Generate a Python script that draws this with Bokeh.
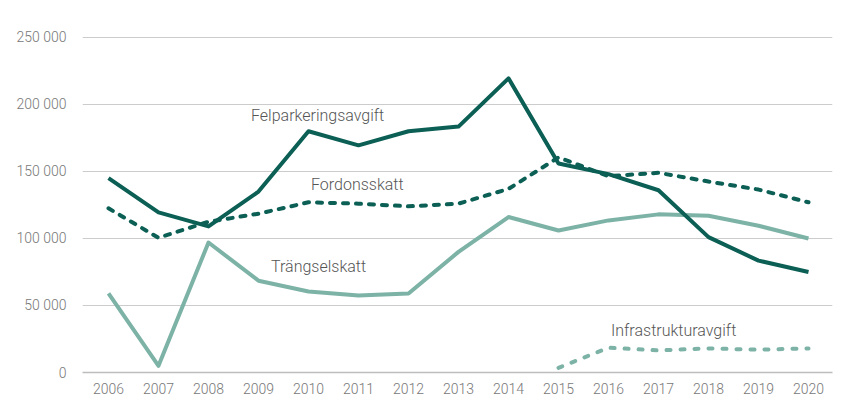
from bokeh.plotting import figure
from bokeh.models import FixedTicker, Range1d, Label
from bokeh.embed import file_html
from bokeh.resources import INLINE

years = list(range(2006, 2021))

felparkering = [145000, 119500, 109000, 135000, 180000, 169500, 180000, 183500,
                219500, 156000, 148000, 136000, 101000, 83500, 75000]
fordonsskatt = [122500, 100500, 112500, 118500, 127000, 126000, 124000, 126000,
                137000, 160500, 146500, 149000, 142500, 136500, 127000]
trangselskatt = [59000, 5000, 97000, 68500, 60500, 57500, 59000, 90000,
                 116000, 106000, 113500, 118000, 117000, 109500, 100000]
infra_years = [2015, 2016, 2017, 2018, 2019, 2020]
infrastruktur = [3500, 18500, 16500, 18000, 17000, 18000]

y_ticks = [0, 50000, 100000, 150000, 200000, 250000]
y_tick_labels = ["0", "50 000", "100 000", "150 000", "200 000", "250 000"]

dark = "#0b5f55"
light = "#7db3a6"
font = "'Roboto Light', Roboto"

p = figure(width=849, height=418, output_backend="svg", toolbar_location=None,
           x_range=Range1d(2005.48, 2020.48), y_range=Range1d(0, 255200),
           min_border_left=82, min_border_right=17, min_border_top=30,
           min_border_bottom=46)
p.outline_line_color = None
p.background_fill_color = "white"
p.border_fill_color = "white"

p.xgrid.grid_line_color = None
p.ygrid.grid_line_color = "#cccccc"
p.ygrid.grid_line_width = 1

p.xaxis.ticker = FixedTicker(ticks=years)
p.xaxis.axis_line_color = "#bdbdbd"
p.xaxis.axis_line_width = 1.5
p.xaxis.major_tick_line_color = None
p.xaxis.minor_tick_line_color = None
p.xaxis.major_label_standoff = 4
p.xaxis.major_label_text_font = font
p.xaxis.major_label_text_font_size = "14px"
p.xaxis.major_label_text_color = "#777777"

p.yaxis.ticker = FixedTicker(ticks=y_ticks)
p.yaxis.major_label_overrides = {t: l for t, l in zip(y_ticks, y_tick_labels)}
p.yaxis.axis_line_color = None
p.yaxis.major_tick_line_color = None
p.yaxis.minor_tick_line_color = None
p.yaxis.major_label_standoff = 10
p.yaxis.major_label_text_font = font
p.yaxis.major_label_text_font_size = "14px"
p.yaxis.major_label_text_color = "#777777"

p.line(years, trangselskatt, line_color=light, line_width=4, line_join="round")
p.line(years, felparkering, line_color=dark, line_width=4, line_join="round")
p.line(years, fordonsskatt, line_color=dark, line_width=4, line_dash="5 8",
       line_cap="round")
p.line(infra_years, infrastruktur, line_color=light, line_width=4,
       line_dash="4 10", line_cap="round")

labels = [
    ("Felparkeringsavgift", 2008.85, 191800),
    ("Fordonsskatt", 2010.05, 140300),
    ("Trängselskatt", 2009.25, 79100),
    ("Infrastrukturavgift", 2016.05, 31300),
]
for text, x, y in labels:
    p.add_layout(Label(x=x, y=y, text=text, text_font=font,
                       text_font_size="16px", text_color="#555555",
                       text_align="left", text_baseline="middle"))

open("out.html", "w").write(file_html(p, INLINE))
